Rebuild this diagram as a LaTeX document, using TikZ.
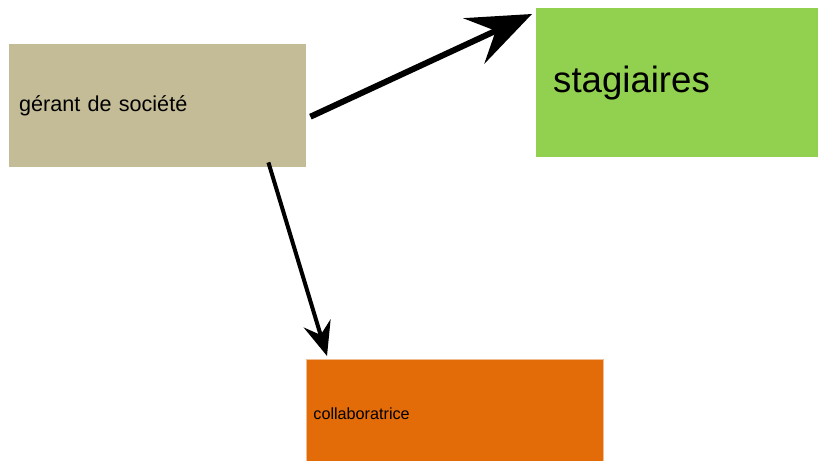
\documentclass[tikz,border=0pt]{standalone}
\usepackage{fontspec}
\setmainfont{Liberation Sans}
\usetikzlibrary{arrows.meta}

\definecolor{tan}{HTML}{C4BC96}
\definecolor{leaf}{HTML}{92D050}
\definecolor{rust}{HTML}{E36C09}

\begin{document}
\begin{tikzpicture}
[every node/.style={inner ysep=0pt, align=left, anchor=north west}]
\useasboundingbox (0pt,0pt) rectangle (818pt,-460pt);
\node (gerant) [fill=tan, text width=277pt, inner xsep=10pt, minimum height=123pt, font=\fontsize{21.6}{24}\selectfont] at (9pt, -44pt) {\raisebox{-2pt}{gérant de société}};
\node (stag) [fill=leaf, text width=248pt, inner xsep=17pt, minimum height=149pt, font=\fontsize{36.6}{40}\selectfont] at (536pt, -8pt) {\raisebox{-5pt}{stagiaires}};
\node (collab) [fill=rust, draw=rust!45, line width=0.8pt, text width=283pt, inner xsep=7pt, minimum height=108pt, font=\fontsize{16.2}{18}\selectfont] at (306pt, -359pt) {collaboratrice};
\draw [line width=6pt, -{Stealth[length=64pt, width=50pt, inset=24pt]}, color=black] ([xshift=4pt, yshift=-11pt]gerant.east) to ([xshift=-4pt, yshift=-6pt]stag.north west);
\draw [line width=4pt, -{Stealth[length=34pt, width=28pt, inset=12pt]}, color=black] ([xshift=-38pt, yshift=5pt]gerant.south east) to ([xshift=21pt, yshift=3pt]collab.north west);
\end{tikzpicture}
\end{document}
